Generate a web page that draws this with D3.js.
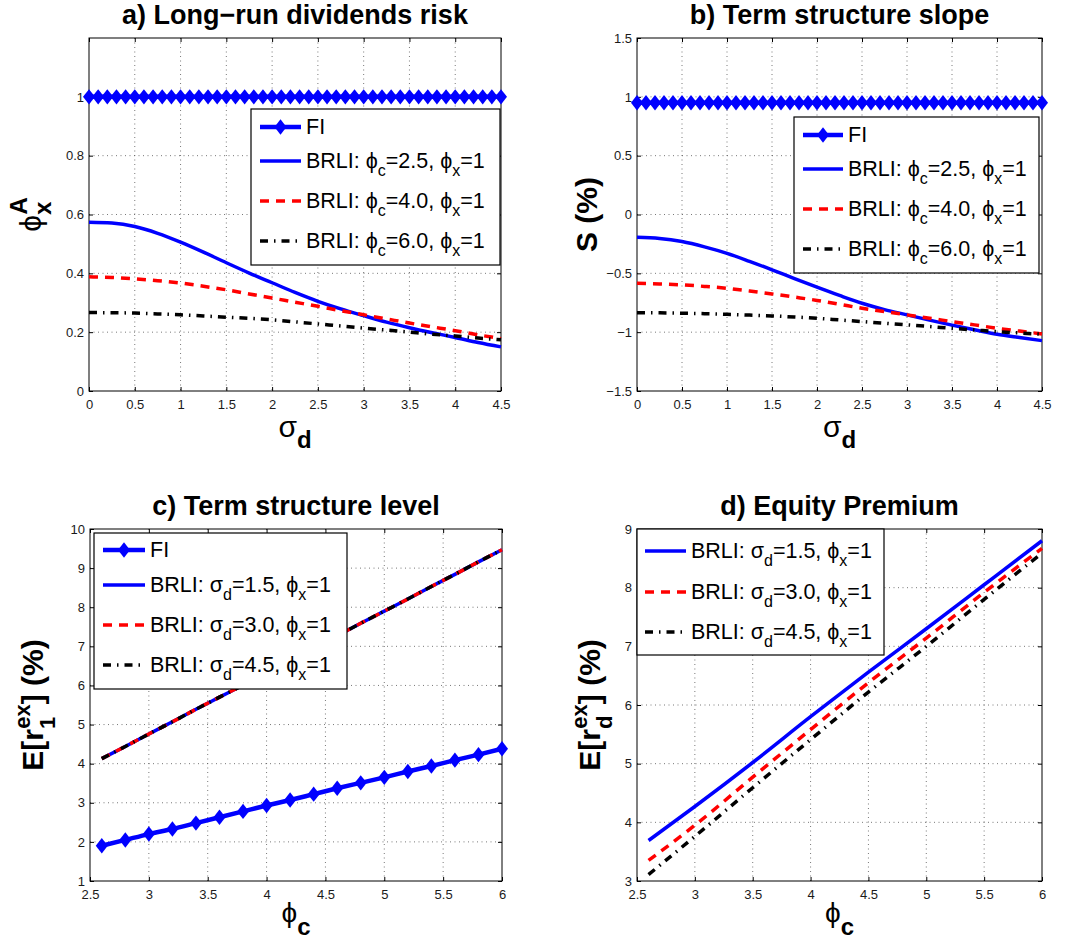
<!DOCTYPE html>
<html>
<head>
<meta charset="utf-8">
<script src="https://cdn.jsdelivr.net/npm/d3@7"></script>
<style>
  body { margin: 0; background: #fff; }
  text { font-family: "Liberation Sans", Arial, Helvetica, sans-serif; }
</style>
</head>
<body>
<svg id="fig" width="1070" height="943"></svg>
<script>
// ---------- data ----------
// sigma_d grid for the BRLI curves (panels a, b)
var sigmaGrid = [0, 0.25, 0.5, 0.75, 1, 1.25, 1.5, 1.75, 2, 2.25, 2.5, 2.75, 3, 3.25, 3.5, 3.75, 4, 4.25, 4.5];
// sigma_d grid of the FI markers
var sigmaFine = [0, 0.1, 0.2, 0.3, 0.4, 0.5, 0.6, 0.7, 0.8, 0.9, 1, 1.1, 1.2, 1.3, 1.4, 1.5, 1.6, 1.7, 1.8, 1.9,
                 2, 2.1, 2.2, 2.3, 2.4, 2.5, 2.6, 2.7, 2.8, 2.9, 3, 3.1, 3.2, 3.3, 3.4, 3.5, 3.6, 3.7, 3.8, 3.9,
                 4, 4.1, 4.2, 4.3, 4.4, 4.5];

// a) long-run dividends risk
var fiA = [1, 1, 1, 1, 1, 1, 1, 1, 1, 1, 1, 1, 1, 1, 1, 1, 1, 1, 1, 1, 1, 1, 1, 1, 1, 1, 1, 1, 1, 1,
           1, 1, 1, 1, 1, 1, 1, 1, 1, 1, 1, 1, 1, 1, 1, 1];
var aPhi25 = [0.574, 0.571, 0.559, 0.536, 0.506, 0.472, 0.436, 0.401, 0.368, 0.335, 0.305, 0.279, 0.256, 0.234, 0.215, 0.198, 0.182, 0.165, 0.150];
var aPhi40 = [0.388, 0.386, 0.381, 0.375, 0.367, 0.356, 0.344, 0.330, 0.316, 0.302, 0.288, 0.273, 0.259, 0.245, 0.231, 0.218, 0.205, 0.191, 0.178];
var aPhi60 = [0.267, 0.266, 0.265, 0.262, 0.259, 0.255, 0.251, 0.247, 0.242, 0.235, 0.228, 0.221, 0.214, 0.207, 0.200, 0.193, 0.187, 0.180, 0.174];

// b) term structure slope (%)
var fiB = [0.95, 0.95, 0.95, 0.95, 0.95, 0.95, 0.95, 0.95, 0.95, 0.95, 0.95, 0.95, 0.95, 0.95, 0.95, 0.95,
           0.95, 0.95, 0.95, 0.95, 0.95, 0.95, 0.95, 0.95, 0.95, 0.95, 0.95, 0.95, 0.95, 0.95, 0.95, 0.95,
           0.95, 0.95, 0.95, 0.95, 0.95, 0.95, 0.95, 0.95, 0.95, 0.95, 0.95, 0.95, 0.95, 0.95];
var bPhi25 = [-0.193, -0.203, -0.230, -0.275, -0.330, -0.398, -0.470, -0.545, -0.618, -0.688, -0.754, -0.808, -0.853, -0.898, -0.940, -0.980, -1.018, -1.046, -1.072];
var bPhi40 = [-0.584, -0.590, -0.598, -0.611, -0.627, -0.650, -0.675, -0.702, -0.730, -0.763, -0.797, -0.825, -0.853, -0.881, -0.910, -0.938, -0.967, -0.991, -1.015];
var bPhi60 = [-0.834, -0.836, -0.839, -0.843, -0.848, -0.855, -0.862, -0.871, -0.882, -0.896, -0.910, -0.924, -0.938, -0.952, -0.967, -0.981, -0.995, -1.007, -1.018];

// c) term structure level (%) against phi_c
var phiGrid = [2.6, 2.8, 3.0, 3.2, 3.4, 3.6, 3.8, 4.0, 4.2, 4.4, 4.6, 4.8, 5.0, 5.2, 5.4, 5.6, 5.8, 6.0];
var fiC = [1.90, 2.05, 2.20, 2.33, 2.48, 2.63, 2.78, 2.93, 3.07, 3.22, 3.37, 3.51, 3.65, 3.80, 3.94, 4.09, 4.23, 4.38];
// the three BRLI lines lie on top of each other
var cSig15 = [4.13, 4.44, 4.76, 5.07, 5.39, 5.70, 6.01, 6.33, 6.64, 6.96, 7.27, 7.59, 7.90, 8.21, 8.53, 8.84, 9.16, 9.47];
var cSig30 = [4.13, 4.44, 4.76, 5.07, 5.39, 5.70, 6.01, 6.33, 6.64, 6.96, 7.27, 7.59, 7.90, 8.21, 8.53, 8.84, 9.16, 9.47];
var cSig45 = [4.13, 4.44, 4.76, 5.07, 5.39, 5.70, 6.01, 6.33, 6.64, 6.96, 7.27, 7.59, 7.90, 8.21, 8.53, 8.84, 9.16, 9.47];

// d) equity premium (%)
var phiD = [2.6, 3.0, 3.5, 4.0, 4.5, 5.0, 5.5, 6.0];
var dSig15 = [3.69, 4.27, 5.02, 5.80, 6.56, 7.30, 8.05, 8.80];
var dSig30 = [3.35, 3.95, 4.77, 5.58, 6.38, 7.14, 7.92, 8.67];
var dSig45 = [3.11, 3.76, 4.59, 5.41, 6.22, 7.00, 7.80, 8.59];

// tick values
var sigmaTicks = [0, 0.5, 1, 1.5, 2, 2.5, 3, 3.5, 4, 4.5];
var phiTicks = [2.5, 3, 3.5, 4, 4.5, 5, 5.5, 6];
var aTicks = [0, 0.2, 0.4, 0.6, 0.8, 1];
var bTicks = [-1.5, -1, -0.5, 0, 0.5, 1, 1.5];
var cTicks = [1, 2, 3, 4, 5, 6, 7, 8, 9, 10];
var dTicks = [3, 4, 5, 6, 7, 8, 9];

// ---------- styles ----------
var BLUE = '#0000ff', RED = '#ff0000', BLACK = '#000000';
var PHI = '\u03D5';
var STY = {
  fi:    { color: BLUE,  width: 4.5, dash: null,          marker: true },
  solid: { color: BLUE,  width: 3.5, dash: null },
  dash:  { color: RED,   width: 3.5, dash: '9,7' },
  dot:   { color: BLACK, width: 3.5, dash: '8,6,1.5,6' }
};

var svg = d3.select('#fig');

// small TeX-like text builder: parts = [{t, size, bold, dy, dx}]
function rich(sel, parts) {
  parts.forEach(function(p){
    var ts = sel.append('tspan').text(p.t);
    if (p.size) ts.attr('font-size', p.size);
    if (p.bold != null) ts.attr('font-weight', p.bold ? 'bold' : 'normal');
    if (p.dy) ts.attr('dy', p.dy);
    if (p.dx) ts.attr('dx', p.dx);
  });
  return sel;
}

function diamond(w, h) {
  return 'M0,' + (-h) + 'L' + w + ',0L0,' + h + 'L' + (-w) + ',0Z';
}

function legendLabel(sym, sub, v1, v2) {
  return [
    { t: 'BRLI: ' + sym },
    { t: sub, size: 16, dy: 8 },
    { t: '=' + v1 + ', ' + PHI, dy: -8 },
    { t: 'x', size: 16, dy: 8 },
    { t: '=' + v2, dy: -8 }
  ];
}

function fmt(d) {
  return d < 0 ? '\u2212' + Math.abs(d) : String(d);
}

function drawPanel(cfg) {
  var g = svg.append('g');
  var x = d3.scaleLinear().domain(cfg.xDomain).range([cfg.left, cfg.right]);
  var y = d3.scaleLinear().domain(cfg.yDomain).range([cfg.bottom, cfg.top]);

  // dotted grid
  g.selectAll('.gx').data(cfg.xTicks.filter(function(d){ return d > cfg.xDomain[0] && d < cfg.xDomain[1]; }))
    .enter().append('line')
    .attr('x1', function(d){ return x(d); }).attr('x2', function(d){ return x(d); })
    .attr('y1', cfg.top).attr('y2', cfg.bottom)
    .attr('stroke', '#555').attr('stroke-width', 0.8).attr('stroke-dasharray', '1,3.5');
  g.selectAll('.gy').data(cfg.yTicks.filter(function(d){ return d > cfg.yDomain[0] && d < cfg.yDomain[1]; }))
    .enter().append('line')
    .attr('y1', function(d){ return y(d); }).attr('y2', function(d){ return y(d); })
    .attr('x1', cfg.left).attr('x2', cfg.right)
    .attr('stroke', '#555').attr('stroke-width', 0.8).attr('stroke-dasharray', '1,3.5');

  // axes with inward ticks on all four sides
  function styleAxis(sel) {
    sel.select('.domain').remove();
    sel.selectAll('.tick line').attr('stroke', '#000');
    sel.selectAll('.tick text').attr('font-size', 13).attr('fill', '#1a1a1a')
      .attr('font-family', '"Liberation Sans", Arial, sans-serif');
  }
  g.append('g').attr('transform', 'translate(0,' + cfg.bottom + ')')
    .call(d3.axisBottom(x).tickValues(cfg.xTicks).tickSizeInner(-4).tickSizeOuter(0).tickPadding(9).tickFormat(fmt))
    .call(styleAxis);
  g.append('g').attr('transform', 'translate(0,' + cfg.top + ')')
    .call(d3.axisTop(x).tickValues(cfg.xTicks).tickSizeInner(-4).tickSizeOuter(0).tickFormat(''))
    .call(styleAxis);
  g.append('g').attr('transform', 'translate(' + cfg.left + ',0)')
    .call(d3.axisLeft(y).tickValues(cfg.yTicks).tickSizeInner(-4).tickSizeOuter(0).tickPadding(5).tickFormat(fmt))
    .call(styleAxis);
  g.append('g').attr('transform', 'translate(' + cfg.right + ',0)')
    .call(d3.axisRight(y).tickValues(cfg.yTicks).tickSizeInner(-4).tickSizeOuter(0).tickFormat(''))
    .call(styleAxis);

  g.append('rect')
    .attr('x', cfg.left).attr('y', cfg.top)
    .attr('width', cfg.right - cfg.left).attr('height', cfg.bottom - cfg.top)
    .attr('fill', 'none').attr('stroke', '#000').attr('stroke-width', 1);

  // series
  var line = d3.line().curve(d3.curveMonotoneX)
    .x(function(d){ return x(d[0]); }).y(function(d){ return y(d[1]); });
  cfg.series.forEach(function(s){
    var pts = s.x.map(function(v, i){ return [v, s.y[i]]; });
    g.append('path').datum(pts)
      .attr('d', line)
      .attr('fill', 'none')
      .attr('stroke', s.style.color)
      .attr('stroke-width', s.style.width)
      .attr('stroke-dasharray', s.style.dash)
      .attr('stroke-linejoin', 'round');
    if (s.style.marker) {
      g.selectAll(null).data(pts).enter().append('path')
        .attr('d', diamond(6, 7.7))
        .attr('transform', function(d){ return 'translate(' + x(d[0]) + ',' + y(d[1]) + ')'; })
        .attr('fill', s.style.color);
    }
  });

  // legend
  var L = cfg.legend;
  g.append('rect')
    .attr('x', L.x0).attr('y', L.y0)
    .attr('width', L.x1 - L.x0).attr('height', L.y1 - L.y0)
    .attr('fill', '#fff').attr('stroke', '#000').attr('stroke-width', 1.2);
  L.items.forEach(function(it, i){
    var ly = L.rows[i];
    g.append('line')
      .attr('x1', L.lx0).attr('x2', L.lx1).attr('y1', ly).attr('y2', ly)
      .attr('stroke', it.style.color).attr('stroke-width', it.style.width)
      .attr('stroke-dasharray', it.style.dash);
    if (it.style.marker) {
      g.append('path').attr('d', diamond(6, 7.7))
        .attr('transform', 'translate(' + ((L.lx0 + L.lx1) / 2) + ',' + ly + ')')
        .attr('fill', it.style.color);
    }
    rich(g.append('text').attr('x', L.tx).attr('y', ly + 7).attr('font-size', 21.5).attr('fill', '#000'), it.label);
  });

  // title
  g.append('text')
    .attr('x', (cfg.left + cfg.right) / 2).attr('y', cfg.top - 14)
    .attr('text-anchor', 'middle').attr('font-size', 27).attr('font-weight', 'bold')
    .text(cfg.title);

  // x label
  rich(g.append('text')
    .attr('x', (cfg.left + cfg.right) / 2).attr('y', cfg.xLabelY)
    .attr('text-anchor', 'middle').attr('font-size', 30), cfg.xLabel);

  // y label (rotated)
  rich(g.append('text')
    .attr('transform', 'translate(' + cfg.yLabelX + ',' + ((cfg.top + cfg.bottom) / 2) + ') rotate(-90)')
    .attr('text-anchor', 'middle').attr('font-size', 30).attr('font-weight', 'bold'), cfg.yLabel);
}

var sigmaLabel = [{ t: 'σ', bold: false }, { t: 'd', size: 24, bold: true, dy: 11 }];
var phiLabel = [{ t: PHI, bold: false, size: 28 }, { t: 'c', size: 24, bold: true, dy: 13 }];

drawPanel({
  title: 'a) Long\u2212run dividends risk',
  left: 89, right: 501, top: 38, bottom: 391,
  xDomain: [0, 4.5], yDomain: [0, 1.2], xTicks: sigmaTicks, yTicks: aTicks,
  series: [
    { x: sigmaFine, y: fiA, style: STY.fi },
    { x: sigmaGrid, y: aPhi25, style: STY.solid },
    { x: sigmaGrid, y: aPhi40, style: STY.dash },
    { x: sigmaGrid, y: aPhi60, style: STY.dot }
  ],
  legend: {
    x0: 251, y0: 109, x1: 500, y1: 265, lx0: 260, lx1: 301, tx: 306,
    rows: [127, 161, 201, 241],
    items: [
      { style: STY.fi, label: [{ t: 'FI' }] },
      { style: STY.solid, label: legendLabel(PHI, 'c', '2.5', '1') },
      { style: STY.dash, label: legendLabel(PHI, 'c', '4.0', '1') },
      { style: STY.dot, label: legendLabel(PHI, 'c', '6.0', '1') }
    ]
  },
  xLabel: sigmaLabel, xLabelY: 437,
  yLabelX: 41,
  yLabel: [{ t: PHI, bold: false }, { t: 'x', size: 24, dy: 10 }, { t: 'A', size: 24, dx: -13, dy: -24 }]
});

drawPanel({
  title: 'b) Term structure slope',
  left: 637, right: 1042, top: 38, bottom: 391,
  xDomain: [0, 4.5], yDomain: [-1.5, 1.5], xTicks: sigmaTicks, yTicks: bTicks,
  series: [
    { x: sigmaFine, y: fiB, style: STY.fi },
    { x: sigmaGrid, y: bPhi25, style: STY.solid },
    { x: sigmaGrid, y: bPhi40, style: STY.dash },
    { x: sigmaGrid, y: bPhi60, style: STY.dot }
  ],
  legend: {
    x0: 794, y0: 117, x1: 1039, y1: 273, lx0: 803, lx1: 843, tx: 848,
    rows: [135, 169, 209, 249],
    items: [
      { style: STY.fi, label: [{ t: 'FI' }] },
      { style: STY.solid, label: legendLabel(PHI, 'c', '2.5', '1') },
      { style: STY.dash, label: legendLabel(PHI, 'c', '4.0', '1') },
      { style: STY.dot, label: legendLabel(PHI, 'c', '6.0', '1') }
    ]
  },
  xLabel: sigmaLabel, xLabelY: 437,
  yLabelX: 597,
  yLabel: [{ t: 'S (%)' }]
});

drawPanel({
  title: 'c) Term structure level',
  left: 90, right: 502, top: 529, bottom: 881,
  xDomain: [2.5, 6], yDomain: [1, 10], xTicks: phiTicks, yTicks: cTicks,
  series: [
    { x: phiGrid, y: fiC, style: STY.fi },
    { x: phiGrid, y: cSig15, style: STY.solid },
    { x: phiGrid, y: cSig30, style: STY.dash },
    { x: phiGrid, y: cSig45, style: STY.dot }
  ],
  legend: {
    x0: 94, y0: 533, x1: 347, y1: 689, lx0: 103, lx1: 145, tx: 150,
    rows: [550, 585, 625, 665],
    items: [
      { style: STY.fi, label: [{ t: 'FI' }] },
      { style: STY.solid, label: legendLabel('σ', 'd', '1.5', '1') },
      { style: STY.dash, label: legendLabel('σ', 'd', '3.0', '1') },
      { style: STY.dot, label: legendLabel('σ', 'd', '4.5', '1') }
    ]
  },
  xLabel: phiLabel, xLabelY: 922,
  yLabelX: 43,
  yLabel: [{ t: 'E[r' }, { t: '1', size: 22, dy: 12 }, { t: 'ex', size: 22, dx: -12, dy: -25 }, { t: '] (%)', dy: 13 }]
});

drawPanel({
  title: 'd) Equity Premium',
  left: 637, right: 1042, top: 529, bottom: 881,
  xDomain: [2.5, 6], yDomain: [3, 9], xTicks: phiTicks, yTicks: dTicks,
  series: [
    { x: phiD, y: dSig15, style: STY.solid },
    { x: phiD, y: dSig30, style: STY.dash },
    { x: phiD, y: dSig45, style: STY.dot }
  ],
  legend: {
    x0: 637, y0: 529, x1: 884, y1: 655, lx0: 645, lx1: 686, tx: 691,
    rows: [551, 592, 632],
    items: [
      { style: STY.solid, label: legendLabel('σ', 'd', '1.5', '1') },
      { style: STY.dash, label: legendLabel('σ', 'd', '3.0', '1') },
      { style: STY.dot, label: legendLabel('σ', 'd', '4.5', '1') }
    ]
  },
  xLabel: phiLabel, xLabelY: 922,
  yLabelX: 600,
  yLabel: [{ t: 'E[r' }, { t: 'd', size: 22, dy: 12 }, { t: 'ex', size: 22, dx: -13, dy: -25 }, { t: '] (%)', dy: 13 }]
});
</script>
</body>
</html>
